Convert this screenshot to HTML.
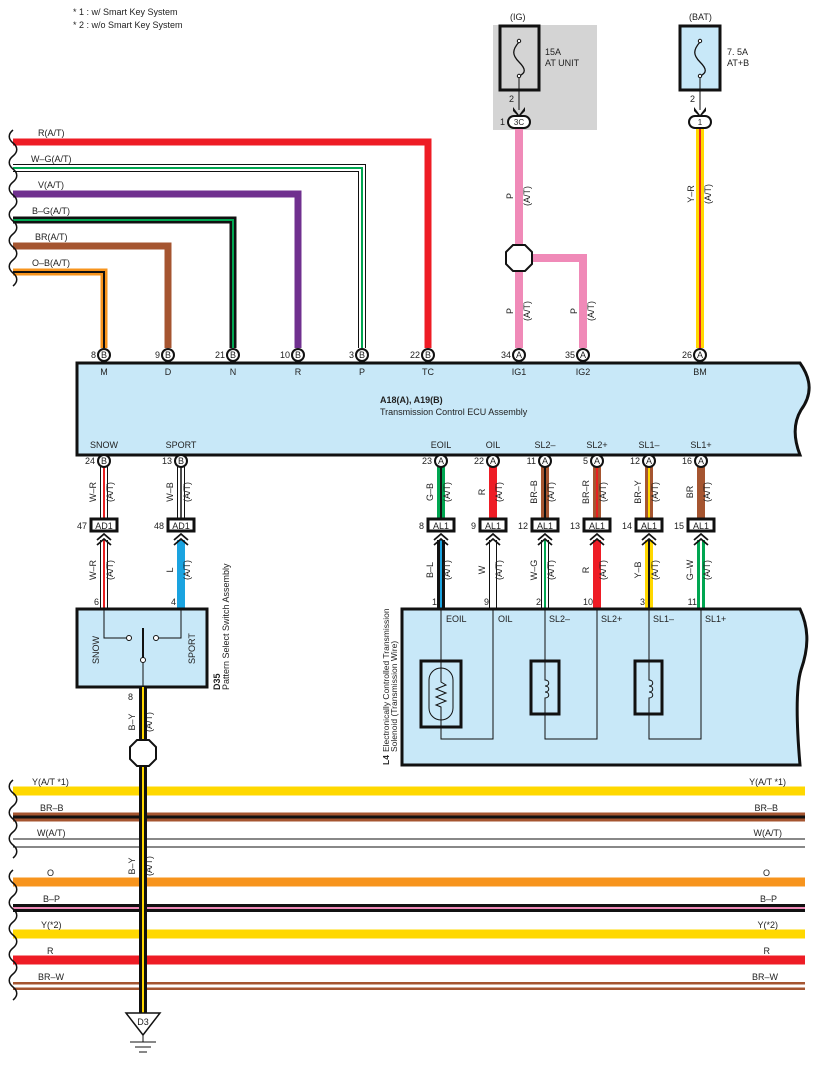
<!DOCTYPE html>
<html><head><meta charset="utf-8"><style>
html,body{margin:0;padding:0;background:#fff}
svg{display:block;font-family:"Liberation Sans",Arial,sans-serif}
text{font-size:9px;fill:#222}
.c{fill:#fff;stroke:#111;stroke-width:2}
</style></head><body>
<svg width="817" height="1065" viewBox="0 0 817 1065" xmlns="http://www.w3.org/2000/svg">
<text x="73" y="15">* 1 : w/ Smart Key System</text>
<text x="73" y="28">* 2 : w/o Smart Key System</text>

<!-- fuses -->
<rect x="493" y="25" width="104" height="105" fill="#d4d4d4"/>
<rect x="500" y="26" width="39" height="64" fill="none" stroke="#111" stroke-width="3"/>
<path d="M519,42 C512,50 512,55 519,62 C526,69 526,73 519,76" fill="none" stroke="#111" stroke-width="1.3"/>
<circle cx="519" cy="41" r="1.7" fill="#fff" stroke="#111"/><circle cx="519" cy="76" r="1.7" fill="#fff" stroke="#111"/>
<line x1="519" y1="78" x2="519" y2="110" stroke="#111"/>
<text x="545" y="55">15A</text><text x="545" y="66">AT UNIT</text>
<text x="510" y="20">(IG)</text>
<text x="509" y="102">2</text>
<path d="M513,107 L519,115 L525,107 L525,111 L519,117 L513,111Z" fill="#111"/>
<rect x="680" y="26" width="40" height="64" fill="#c8e8f8" stroke="#111" stroke-width="3"/>
<path d="M700,42 C693,50 693,55 700,62 C707,69 707,73 700,76" fill="none" stroke="#111" stroke-width="1.3"/>
<circle cx="700" cy="41" r="1.7" fill="#fff" stroke="#111"/><circle cx="700" cy="76" r="1.7" fill="#fff" stroke="#111"/>
<line x1="700" y1="78" x2="700" y2="110" stroke="#111"/>
<text x="727" y="55">7. 5A</text><text x="727" y="66">AT+B</text>
<text x="689" y="20">(BAT)</text>
<text x="690" y="102">2</text>
<path d="M694,107 L700,115 L706,107 L706,111 L700,117 L694,111Z" fill="#111"/>

<!-- top right wires -->
<path d="M519,128 V348 M519,258 H583 V348" fill="none" stroke="#f08ab8" stroke-width="8"/>
<polygon points="513,245 525,245 532,252 532,264 525,271 513,271 506,264 506,252" fill="#fff" stroke="#111" stroke-width="2"/>
<rect x="508" y="116" width="22" height="12" rx="6" class="c"/>
<text x="519" y="125" text-anchor="middle" style="font-size:8px">3C</text>
<text x="500" y="125">1</text>
<line x1="700" y1="128" x2="700" y2="348" stroke="#ffd800" stroke-width="8"/>
<line x1="700" y1="128" x2="700" y2="348" stroke="#e82020" stroke-width="2"/>
<rect x="689" y="116" width="22" height="12" rx="6" class="c"/>
<text x="700" y="125" text-anchor="middle" style="font-size:8px">1</text>
<g text-anchor="middle">
<text transform="translate(513,196) rotate(-90)">P</text><text transform="translate(530,196) rotate(-90)">(A/T)</text>
<text transform="translate(513,311) rotate(-90)">P</text><text transform="translate(530,311) rotate(-90)">(A/T)</text>
<text transform="translate(577,311) rotate(-90)">P</text><text transform="translate(594,311) rotate(-90)">(A/T)</text>
<text transform="translate(694,194) rotate(-90)">Y–R</text><text transform="translate(711,194) rotate(-90)">(A/T)</text>
</g>

<!-- top-left wires -->
<g fill="none" stroke-linejoin="miter">
<path d="M13,142 H428 V348" stroke="#ee1c25" stroke-width="7"/>
<path d="M13,168 H362 V348" stroke="#111" stroke-width="8"/>
<path d="M13,168 H362 V348" stroke="#fff" stroke-width="6"/>
<path d="M13,168 H362 V348" stroke="#00a651" stroke-width="2"/>
<path d="M13,194 H298 V348" stroke="#70308f" stroke-width="7"/>
<path d="M13,220 H233 V348" stroke="#111" stroke-width="7"/>
<path d="M13,220 H233 V348" stroke="#00a651" stroke-width="2"/>
<path d="M13,246 H168 V348" stroke="#a55530" stroke-width="7"/>
<path d="M13,272 H104 V348" stroke="#f7941d" stroke-width="7"/>
<path d="M13,272 H104 V348" stroke="#111" stroke-width="2"/>
<path d="M13,130 c-5,4 -5,9 0,13 c5,4 5,9 0,13 c-5,4 -5,9 0,13 c5,4 5,9 0,13 c-5,4 -5,9 0,13 c5,4 5,9 0,13 c-5,4 -5,9 0,13 c5,4 5,9 0,13 c-5,4 -5,9 0,13 c5,4 5,9 0,13 c-5,4 -5,9 0,13 c5,4 5,9 0,13" stroke="#111" stroke-width="1.5"/>
</g>
<text x="38" y="136">R(A/T)</text>
<text x="31" y="162">W–G(A/T)</text>
<text x="38" y="188">V(A/T)</text>
<text x="32" y="214">B–G(A/T)</text>
<text x="35" y="240">BR(A/T)</text>
<text x="32" y="266">O–B(A/T)</text>

<!-- ECU -->
<path d="M77,363 H800 C812,380 812,395 801,410 C792,425 795,442 800,455 H77 Z" fill="#c8e8f8" stroke="#111" stroke-width="3"/>
<g text-anchor="middle">
<text x="104" y="375">M</text><text x="168" y="375">D</text><text x="233" y="375">N</text><text x="298" y="375">R</text><text x="362" y="375">P</text><text x="428" y="375">TC</text>
<text x="519" y="375">IG1</text><text x="583" y="375">IG2</text><text x="700" y="375">BM</text>
<text x="104" y="448">SNOW</text><text x="181" y="448">SPORT</text>
<text x="441" y="448">EOIL</text><text x="493" y="448">OIL</text><text x="545" y="448">SL2–</text><text x="597" y="448">SL2+</text><text x="649" y="448">SL1–</text><text x="701" y="448">SL1+</text>
</g>
<text x="380" y="403" style="font-weight:bold">A18(A), A19(B)</text>
<text x="380" y="415">Transmission Control ECU Assembly</text>

<!-- top connectors -->
<g text-anchor="middle" style="font-size:8px">
<circle cx="104" cy="355" r="6" class="c"/><text x="104" y="358">B</text>
<circle cx="168" cy="355" r="6" class="c"/><text x="168" y="358">B</text>
<circle cx="233" cy="355" r="6" class="c"/><text x="233" y="358">B</text>
<circle cx="298" cy="355" r="6" class="c"/><text x="298" y="358">B</text>
<circle cx="362" cy="355" r="6" class="c"/><text x="362" y="358">B</text>
<circle cx="428" cy="355" r="6" class="c"/><text x="428" y="358">B</text>
<circle cx="519" cy="355" r="6" class="c"/><text x="519" y="358">A</text>
<circle cx="583" cy="355" r="6" class="c"/><text x="583" y="358">A</text>
<circle cx="700" cy="355" r="6" class="c"/><text x="700" y="358">A</text>
</g>
<g text-anchor="end">
<text x="96" y="358">8</text><text x="160" y="358">9</text><text x="225" y="358">21</text><text x="290" y="358">10</text><text x="354" y="358">3</text><text x="420" y="358">22</text>
<text x="511" y="358">34</text><text x="575" y="358">35</text><text x="692" y="358">26</text>
</g>

<!-- lower wires -->
<g fill="none">
<line x1="104" y1="467" x2="104" y2="519" stroke="#111" stroke-width="8"/><line x1="104" y1="467" x2="104" y2="519" stroke="#fff" stroke-width="6"/><line x1="104" y1="467" x2="104" y2="519" stroke="#e82020" stroke-width="2"/>
<line x1="104" y1="540" x2="104" y2="609" stroke="#111" stroke-width="8"/><line x1="104" y1="540" x2="104" y2="609" stroke="#fff" stroke-width="6"/><line x1="104" y1="540" x2="104" y2="609" stroke="#e82020" stroke-width="2"/>
<line x1="181" y1="467" x2="181" y2="519" stroke="#111" stroke-width="8"/><line x1="181" y1="467" x2="181" y2="519" stroke="#fff" stroke-width="6"/><line x1="181" y1="467" x2="181" y2="519" stroke="#111" stroke-width="1.5"/>
<line x1="181" y1="540" x2="181" y2="609" stroke="#1aa3e0" stroke-width="8"/>
<line x1="441" y1="467" x2="441" y2="519" stroke="#00a651" stroke-width="8"/><line x1="441" y1="467" x2="441" y2="519" stroke="#111" stroke-width="2"/>
<line x1="441" y1="540" x2="441" y2="609" stroke="#111" stroke-width="8"/><line x1="441" y1="540" x2="441" y2="609" stroke="#1aa3e0" stroke-width="2"/>
<line x1="493" y1="467" x2="493" y2="519" stroke="#ee1c25" stroke-width="8"/>
<line x1="493" y1="540" x2="493" y2="609" stroke="#111" stroke-width="8"/><line x1="493" y1="540" x2="493" y2="609" stroke="#fff" stroke-width="6"/>
<line x1="545" y1="467" x2="545" y2="519" stroke="#a55530" stroke-width="8"/><line x1="545" y1="467" x2="545" y2="519" stroke="#111" stroke-width="2"/>
<line x1="545" y1="540" x2="545" y2="609" stroke="#111" stroke-width="8"/><line x1="545" y1="540" x2="545" y2="609" stroke="#fff" stroke-width="6"/><line x1="545" y1="540" x2="545" y2="609" stroke="#00a651" stroke-width="2"/>
<line x1="597" y1="467" x2="597" y2="519" stroke="#a55530" stroke-width="8"/><line x1="597" y1="467" x2="597" y2="519" stroke="#e82020" stroke-width="2"/>
<line x1="597" y1="540" x2="597" y2="609" stroke="#ee1c25" stroke-width="8"/>
<line x1="649" y1="467" x2="649" y2="519" stroke="#a55530" stroke-width="8"/><line x1="649" y1="467" x2="649" y2="519" stroke="#ffd800" stroke-width="2"/>
<line x1="649" y1="540" x2="649" y2="609" stroke="#ffd800" stroke-width="8"/><line x1="649" y1="540" x2="649" y2="609" stroke="#111" stroke-width="2"/>
<line x1="701" y1="467" x2="701" y2="519" stroke="#a55530" stroke-width="8"/>
<line x1="701" y1="540" x2="701" y2="609" stroke="#00a651" stroke-width="8"/><line x1="701" y1="540" x2="701" y2="609" stroke="#fff" stroke-width="2"/>
</g>

<!-- bottom ECU connectors -->
<g text-anchor="middle" style="font-size:8px">
<circle cx="104" cy="461" r="6" class="c"/><text x="104" y="464">B</text>
<circle cx="181" cy="461" r="6" class="c"/><text x="181" y="464">B</text>
<circle cx="441" cy="461" r="6" class="c"/><text x="441" y="464">A</text>
<circle cx="493" cy="461" r="6" class="c"/><text x="493" y="464">A</text>
<circle cx="545" cy="461" r="6" class="c"/><text x="545" y="464">A</text>
<circle cx="597" cy="461" r="6" class="c"/><text x="597" y="464">A</text>
<circle cx="649" cy="461" r="6" class="c"/><text x="649" y="464">A</text>
<circle cx="701" cy="461" r="6" class="c"/><text x="701" y="464">A</text>
</g>
<g text-anchor="end">
<text x="95" y="464">24</text><text x="172" y="464">13</text><text x="432" y="464">23</text><text x="484" y="464">22</text><text x="536" y="464">11</text><text x="588" y="464">5</text><text x="640" y="464">12</text><text x="692" y="464">16</text>
</g>

<!-- AL1/AD1 boxes + chevrons -->
<g>
<rect x="91" y="519" width="26" height="12" fill="#fff" stroke="#111" stroke-width="3"/>
<rect x="168" y="519" width="26" height="12" fill="#fff" stroke="#111" stroke-width="3"/>
<rect x="428" y="519" width="26" height="12" fill="#fff" stroke="#111" stroke-width="3"/>
<rect x="480" y="519" width="26" height="12" fill="#fff" stroke="#111" stroke-width="3"/>
<rect x="532" y="519" width="26" height="12" fill="#fff" stroke="#111" stroke-width="3"/>
<rect x="584" y="519" width="26" height="12" fill="#fff" stroke="#111" stroke-width="3"/>
<rect x="636" y="519" width="26" height="12" fill="#fff" stroke="#111" stroke-width="3"/>
<rect x="688" y="519" width="26" height="12" fill="#fff" stroke="#111" stroke-width="3"/>
</g>
<g text-anchor="middle">
<text x="104" y="529">AD1</text><text x="181" y="529">AD1</text>
<text x="441" y="529">AL1</text><text x="493" y="529">AL1</text><text x="545" y="529">AL1</text><text x="597" y="529">AL1</text><text x="649" y="529">AL1</text><text x="701" y="529">AL1</text>
</g>
<g text-anchor="end">
<text x="87" y="529">47</text><text x="164" y="529">48</text><text x="424" y="529">8</text><text x="476" y="529">9</text><text x="528" y="529">12</text><text x="580" y="529">13</text><text x="632" y="529">14</text><text x="684" y="529">15</text>
</g>
<g fill="none" stroke="#111" stroke-width="1.8">
<path d="M97,540 l7,-6 l7,6 M97,545 l7,-6 l7,6"/>
<path d="M174,540 l7,-6 l7,6 M174,545 l7,-6 l7,6"/>
<path d="M434,540 l7,-6 l7,6 M434,545 l7,-6 l7,6"/>
<path d="M486,540 l7,-6 l7,6 M486,545 l7,-6 l7,6"/>
<path d="M538,540 l7,-6 l7,6 M538,545 l7,-6 l7,6"/>
<path d="M590,540 l7,-6 l7,6 M590,545 l7,-6 l7,6"/>
<path d="M642,540 l7,-6 l7,6 M642,545 l7,-6 l7,6"/>
<path d="M694,540 l7,-6 l7,6 M694,545 l7,-6 l7,6"/>
</g>

<!-- vertical wire labels -->
<g text-anchor="middle">
<text transform="translate(96,492) rotate(-90)">W–R</text><text transform="translate(113,492) rotate(-90)">(A/T)</text>
<text transform="translate(173,492) rotate(-90)">W–B</text><text transform="translate(190,492) rotate(-90)">(A/T)</text>
<text transform="translate(433,492) rotate(-90)">G–B</text><text transform="translate(450,492) rotate(-90)">(A/T)</text>
<text transform="translate(485,492) rotate(-90)">R</text><text transform="translate(502,492) rotate(-90)">(A/T)</text>
<text transform="translate(537,492) rotate(-90)">BR–B</text><text transform="translate(554,492) rotate(-90)">(A/T)</text>
<text transform="translate(589,492) rotate(-90)">BR–R</text><text transform="translate(606,492) rotate(-90)">(A/T)</text>
<text transform="translate(641,492) rotate(-90)">BR–Y</text><text transform="translate(658,492) rotate(-90)">(A/T)</text>
<text transform="translate(693,492) rotate(-90)">BR</text><text transform="translate(710,492) rotate(-90)">(A/T)</text>

<text transform="translate(96,570) rotate(-90)">W–R</text><text transform="translate(113,570) rotate(-90)">(A/T)</text>
<text transform="translate(173,570) rotate(-90)">L</text><text transform="translate(190,570) rotate(-90)">(A/T)</text>
<text transform="translate(433,570) rotate(-90)">B–L</text><text transform="translate(450,570) rotate(-90)">(A/T)</text>
<text transform="translate(485,570) rotate(-90)">W</text><text transform="translate(502,570) rotate(-90)">(A/T)</text>
<text transform="translate(537,570) rotate(-90)">W–G</text><text transform="translate(554,570) rotate(-90)">(A/T)</text>
<text transform="translate(589,570) rotate(-90)">R</text><text transform="translate(606,570) rotate(-90)">(A/T)</text>
<text transform="translate(641,570) rotate(-90)">Y–B</text><text transform="translate(658,570) rotate(-90)">(A/T)</text>
<text transform="translate(693,570) rotate(-90)">G–W</text><text transform="translate(710,570) rotate(-90)">(A/T)</text>

<text transform="translate(135,722) rotate(-90)">B–Y</text><text transform="translate(152,722) rotate(-90)">(A/T)</text>
<text transform="translate(135,866) rotate(-90)">B–Y</text><text transform="translate(152,866) rotate(-90)">(A/T)</text>
</g>
<g text-anchor="end">
<text x="99" y="605">6</text><text x="176" y="605">4</text>
<text x="437" y="605">1</text><text x="489" y="605">9</text><text x="541" y="605">2</text><text x="593" y="605">10</text><text x="645" y="605">3</text><text x="697" y="605">11</text>
</g>

<!-- L4 -->
<path d="M402,609 H800 C810,630 808,650 801,670 C795,690 797,730 800,765 H402 Z" fill="#c8e8f8" stroke="#111" stroke-width="3"/>
<g fill="none" stroke="#111" stroke-width="1">
<path d="M441,609 V739 H493 V609"/>
<path d="M545,609 V739 H597 V609"/>
<path d="M649,609 V739 H701 V609"/>
</g>
<text x="446" y="622">EOIL</text><text x="498" y="622">OIL</text><text x="549" y="622">SL2–</text><text x="601" y="622">SL2+</text><text x="653" y="622">SL1–</text><text x="705" y="622">SL1+</text>
<rect x="421" y="661" width="40" height="66" fill="#c8e8f8" stroke="#111" stroke-width="3"/>
<rect x="429" y="668" width="24" height="52" rx="12" fill="none" stroke="#111" stroke-width="1"/>
<path d="M441,661 V682 l5,3 l-10,4 l10,4 l-10,4 l10,4 l-10,4 l5,2 V727" fill="none" stroke="#111" stroke-width="1"/>
<rect x="531" y="661" width="28" height="53" fill="#c8e8f8" stroke="#111" stroke-width="3"/>
<rect x="635" y="661" width="27" height="53" fill="#c8e8f8" stroke="#111" stroke-width="3"/>
<path d="M545,661 V680 c5,0 5,6 0,6 c5,0 5,6 0,6 c5,0 5,6 0,6 V714" fill="none" stroke="#111"/>
<path d="M649,661 V680 c5,0 5,6 0,6 c5,0 5,6 0,6 c5,0 5,6 0,6 V714" fill="none" stroke="#111"/>
<text transform="translate(389,765) rotate(-90)" style="font-weight:bold;font-size:8.5px">L4</text>
<text transform="translate(389,752) rotate(-90)" style="font-size:8.5px">Electronically Controlled Transmission</text>
<text transform="translate(397,752) rotate(-90)" style="font-size:8.5px">Solenoid (Transmission Wire)</text>

<!-- D35 -->
<rect x="77" y="609" width="130" height="78" fill="#c8e8f8" stroke="#111" stroke-width="3"/>
<g fill="none" stroke="#111" stroke-width="1">
<path d="M104,609 V638 H126"/><path d="M181,609 V638 H159"/>
<line x1="143" y1="628" x2="143" y2="660" stroke-width="2"/>
<line x1="143" y1="660" x2="143" y2="687"/>
</g>
<circle cx="129" cy="638" r="2.5" fill="#fff" stroke="#111"/>
<circle cx="156" cy="638" r="2.5" fill="#fff" stroke="#111"/>
<circle cx="143" cy="660" r="2.5" fill="#fff" stroke="#111"/>
<text transform="translate(99,664) rotate(-90)">SNOW</text>
<text transform="translate(195,664) rotate(-90)">SPORT</text>
<text transform="translate(220,690) rotate(-90)" style="font-weight:bold">D35</text>
<text transform="translate(229,690) rotate(-90)">Pattern Select Switch Assembly</text>

<!-- bus lines -->
<g fill="none">
<line x1="13" y1="791" x2="805" y2="791" stroke="#ffd800" stroke-width="9"/>
<line x1="13" y1="817" x2="805" y2="817" stroke="#a55530" stroke-width="9"/>
<line x1="13" y1="817" x2="805" y2="817" stroke="#111" stroke-width="3"/>
<line x1="13" y1="839" x2="805" y2="839" stroke="#111" stroke-width="1"/>
<line x1="13" y1="847" x2="805" y2="847" stroke="#111" stroke-width="1"/>
<line x1="13" y1="882" x2="805" y2="882" stroke="#f7941d" stroke-width="9"/>
<line x1="13" y1="908" x2="805" y2="908" stroke="#111" stroke-width="8"/>
<line x1="13" y1="908" x2="805" y2="908" stroke="#f08ab8" stroke-width="2"/>
<line x1="13" y1="934" x2="805" y2="934" stroke="#ffd800" stroke-width="9"/>
<line x1="13" y1="960" x2="805" y2="960" stroke="#ee1c25" stroke-width="9"/>
<line x1="13" y1="986" x2="805" y2="986" stroke="#a55530" stroke-width="8"/>
<line x1="13" y1="986" x2="805" y2="986" stroke="#fff" stroke-width="3"/>
<path d="M13,780 c-5,4 -5,9 0,13 c5,4 5,9 0,13 c-5,4 -5,9 0,13 c5,4 5,9 0,13 c-5,4 -5,9 0,13 c5,4 5,9 0,13" stroke="#111" stroke-width="1.5"/>
<path d="M13,870 c-5,4 -5,9 0,13 c5,4 5,9 0,13 c-5,4 -5,9 0,13 c5,4 5,9 0,13 c-5,4 -5,9 0,13 c5,4 5,9 0,13 c-5,4 -5,9 0,13 c5,4 5,9 0,13 c-5,4 -5,9 0,13 c5,4 5,9 0,13" stroke="#111" stroke-width="1.5"/>
</g>
<text x="32" y="785">Y(A/T *1)</text><text x="40" y="811">BR–B</text><text x="37" y="836">W(A/T)</text>
<text x="47" y="876">O</text><text x="43" y="902">B–P</text><text x="41" y="928">Y(*2)</text><text x="47" y="954">R</text><text x="38" y="980">BR–W</text>
<g text-anchor="end">
<text x="786" y="785">Y(A/T *1)</text><text x="778" y="811">BR–B</text><text x="782" y="836">W(A/T)</text>
<text x="770" y="876">O</text><text x="777" y="902">B–P</text><text x="778" y="928">Y(*2)</text><text x="770" y="954">R</text><text x="778" y="980">BR–W</text>
</g>

<!-- ground wire -->
<line x1="143" y1="687" x2="143" y2="1014" stroke="#111" stroke-width="8"/>
<line x1="143" y1="687" x2="143" y2="1014" stroke="#ffd800" stroke-width="2"/>
<text x="133" y="700" text-anchor="end">8</text>
<polygon points="137,740 149,740 156,747 156,759 149,766 137,766 130,759 130,747" fill="#fff" stroke="#111" stroke-width="2"/>
<polygon points="126,1013 160,1013 143,1035" fill="#fff" stroke="#111" stroke-width="1.5"/>
<text x="143" y="1025" text-anchor="middle">D3</text>
<g stroke="#111" stroke-width="1">
<line x1="143" y1="1035" x2="143" y2="1042"/>
<line x1="130" y1="1042" x2="156" y2="1042"/>
<line x1="135" y1="1047" x2="151" y2="1047"/>
<line x1="139" y1="1052" x2="147" y2="1052"/>
</g>
</svg>
</body></html>
